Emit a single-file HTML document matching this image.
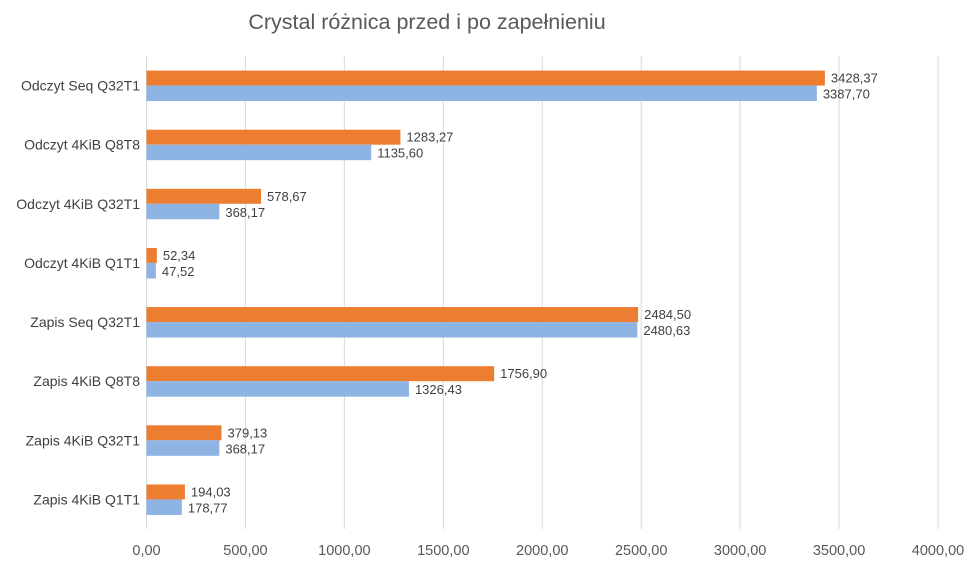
<!DOCTYPE html>
<html><head><meta charset="utf-8"><style>
html,body{margin:0;padding:0;background:#fff;width:979px;height:565px;overflow:hidden}
svg text{font-family:"Liberation Sans",sans-serif}
</style></head><body>
<svg id="chart" width="979" height="565" xmlns="http://www.w3.org/2000/svg">
<rect x="0" y="0" width="979" height="565" fill="#fff"/>
<text x="427" y="29" text-anchor="middle" font-size="21.5" fill="#595959">Crystal różnica przed i po zapełnieniu</text>
<g id="grid"></g><g id="bars"></g><g id="labels"></g>
</svg>
<script>
const categories = ["Odczyt Seq Q32T1","Odczyt 4KiB Q8T8","Odczyt 4KiB Q32T1","Odczyt 4KiB Q1T1","Zapis Seq Q32T1","Zapis 4KiB Q8T8","Zapis 4KiB Q32T1","Zapis 4KiB Q1T1"];
const seriesAfter = [3428.37,1283.27,578.67,52.34,2484.50,1756.90,379.13,194.03];
const seriesBefore = [3387.70,1135.60,368.17,47.52,2480.63,1326.43,368.17,178.77];
const xTicks = [0,500,1000,1500,2000,2500,3000,3500,4000];

const NS="http://www.w3.org/2000/svg";
const x0=146.5, x1=938, xMax=4000, plotTop=56, plotBottom=529;
const band=(plotBottom-plotTop)/categories.length;
const xScale=v=>x0+(x1-x0)*v/xMax;
const yCenter=i=>plotTop+band*(i+0.5);
const fmt=v=>v.toFixed(2).replace('.',',');
function mk(tag,attrs,parent){const e=document.createElementNS(NS,tag);for(const k in attrs)e.setAttribute(k,attrs[k]);parent.appendChild(e);return e;}
const grid=document.getElementById('grid'),bars=document.getElementById('bars'),labels=document.getElementById('labels');
xTicks.forEach(t=>{
  const l=mk('line',{x1:xScale(t),x2:xScale(t),y1:plotTop,y2:plotBottom,stroke:'#d9d9d9','stroke-width':1},grid);
  
  
  const tx=mk('text',{x:xScale(t),y:555,'text-anchor':'middle','font-size':14.5,fill:'#595959'},grid);
  tx.textContent=fmt(t);
  
  
});
categories.forEach((c,i)=>{
  const cy=yCenter(i);
  const cl=mk('text',{x:140,y:cy+5,'text-anchor':'end','font-size':14,fill:'#404040'},labels);
  cl.textContent=c;
  
  
  const a=mk('rect',{x:x0,y:cy-15,width:xScale(seriesAfter[i])-x0,height:15,fill:'#ED7D31'},bars);
  
  
  const b=mk('rect',{x:x0,y:cy,width:xScale(seriesBefore[i])-x0,height:15.5,fill:'#8EB4E3'},bars);
  
  
  const la=mk('text',{x:xScale(seriesAfter[i])+6,y:cy-3,'font-size':13,fill:'#404040'},labels);
  la.textContent=fmt(seriesAfter[i]);
  
  
  const lb=mk('text',{x:xScale(seriesBefore[i])+6,y:cy+13,'font-size':13,fill:'#404040'},labels);
  lb.textContent=fmt(seriesBefore[i]);
  
  
});
</script>
</body></html>
